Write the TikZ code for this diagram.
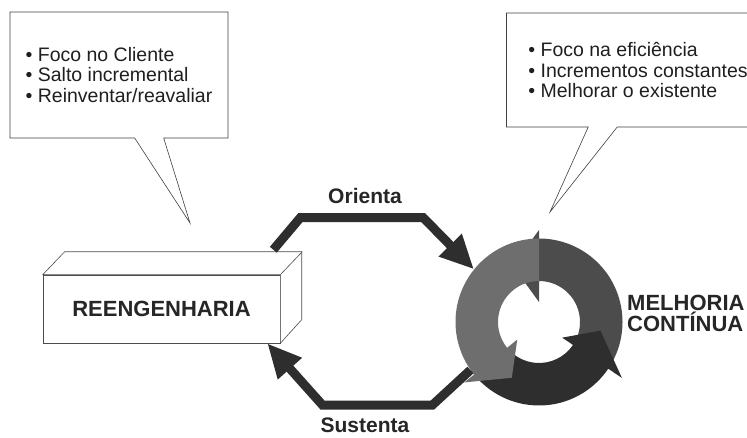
\documentclass[tikz,border=0pt]{standalone}
\usepackage{fontspec}
\setmainfont{Liberation Sans}
\usetikzlibrary{calc,arrows.meta,shapes.callouts}
\tikzset{>={Triangle[length=34pt,width=30pt]}}

\begin{document}
\begin{tikzpicture}[
    x=1pt, y=-1pt,
    balao/.style={rectangle callout, draw=black!75, fill=white, line width=0.6pt,
        callout pointer width=29pt, align=left, inner sep=0pt, text=black!88,
        font=\fontsize{19.5}{20.5}\selectfont},
    caixa/.style={draw=black!70, fill=white, line width=0.6pt, minimum width=237pt,
        minimum height=68pt, inner sep=0pt},
    borda/.style={draw=black!70, fill=white, line width=0.6pt, line join=round},
    seta/.style={->, line width=9pt, draw=black!82, line join=miter},
    rotulo/.style={font=\bfseries\fontsize{22}{21}\selectfont, text=black!85},
    anelclaro/.style={fill=black!57},
    anelmedio/.style={fill=black!70},
    anelescuro/.style={fill=black!82}
]
\useasboundingbox (0,0) rectangle (747,437);

% baloes
\node[balao, minimum width=218pt, minimum height=126pt,
      callout absolute pointer={(190,223)}] (reenbalao) at (119,75)
    {\textbullet\ Foco no Cliente\\\textbullet\ Salto incremental\\\textbullet\ Reinventar/reavaliar};
\node[balao, minimum width=263pt, minimum height=114pt,
      callout absolute pointer={(550,212)}] (melbalao) at (638,70)
    {\textbullet\ Foco na eficiência\\\textbullet\ Incrementos constantes\\\textbullet\ Melhorar o existente};

% caixa 3D
\node[caixa, rotulo] (reen) at (161.5,309) {REENGENHARIA};
\draw[borda] (reen.north west) -- ++(22,-23) -- ++(237,0) -- ++(0,68)
    -- (reen.south east) -- (reen.north east) -- cycle;
\draw[borda, fill=none] (reen.north east) -- ++(22,-23);

% ciclo
\node[circle, minimum size=167pt, inner sep=0pt] (melhoria) at (539,322) {};
\begin{scope}[shift={(melhoria.center)}, yscale=-1]
  \fill[anelmedio] (326:83.5) arc[start angle=326, end angle=450, radius=83.5]
      -- (450:92) -- (475:62) -- (450:20) -- (450:41)
      arc[start angle=450, end angle=326, radius=41] -- cycle;
  \fill[anelescuro] (219:83.5) arc[start angle=219, end angle=326, radius=83.5]
      -- (326:100) -- (352:62) -- (326:28) -- (326:41)
      arc[start angle=326, end angle=219, radius=41] -- cycle;
  \fill[anelclaro] (90:83.5) arc[start angle=90, end angle=219, radius=83.5]
      -- (219:96) -- (244:62) -- (219:28) -- (219:41)
      arc[start angle=219, end angle=90, radius=41] -- cycle;
\end{scope}

% setas
\coordinate (o1) at ($(reen.north east)+(-7,-25)$);
\coordinate (s1) at ($(reen.south east)+(-13,0)$);
\draw[seta] (o1) -- ++(27,-32) -- ++(123,0) -- (melhoria.141);
\draw[seta] (melhoria.215) -- ++(-38,35) -- ++(-110,0) -- (s1);

\node[rotulo, font=\bfseries\fontsize{21}{21}\selectfont] (orienta) at (365,196) {Orienta};
\node[rotulo, font=\bfseries\fontsize{21}{21}\selectfont] (sustenta) at (365,425) {Sustenta};
\node[rotulo, anchor=west, align=left, inner sep=0pt] (melrotulo) at (627,313)
    {MELHORIA\\CONTÍNUA};
\end{tikzpicture}
\end{document}
